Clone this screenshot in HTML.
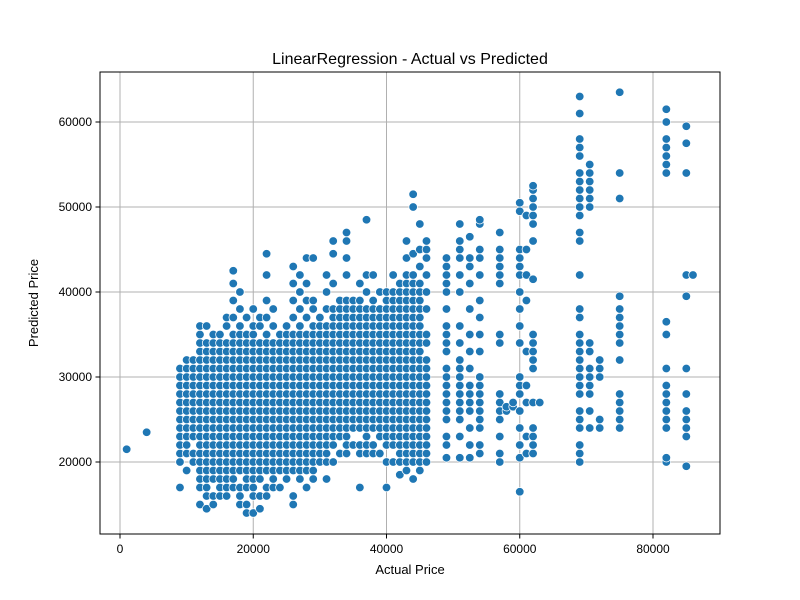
<!DOCTYPE html>
<html><head><meta charset="utf-8"><style>
body{margin:0;background:#fff}
svg{display:block;font-family:"Liberation Sans","DejaVu Sans",sans-serif}
</style></head><body>
<svg id="chart" width="800" height="600" viewBox="0 0 800 600" xmlns="http://www.w3.org/2000/svg">
<rect width="800" height="600" fill="#fff"/>
<g id="grid"></g>
<g id="points"></g>
<rect x="100" y="72" width="620" height="462" fill="none" stroke="#000" stroke-width="1"/>
<g id="ticks"></g>
<text x="410" y="64" text-anchor="middle" font-size="16">LinearRegression - Actual vs Predicted</text>
<text x="410" y="574" text-anchor="middle" font-size="13">Actual Price</text>
<text transform="translate(38,303) rotate(-90)" text-anchor="middle" font-size="13">Predicted Price</text>
</svg>
<script>
const xTicks=[0,20000,40000,60000,80000];
const yTicks=[20000,30000,40000,50000,60000];
// actual price (thousands) per column
const colX=[1,4,9,10,11,12,13,14,15,16,17,18,19,20,21,22,23,24,25,26,27,28,29,30,31,32,33,34,35,36,37,38,39,40,41,42,43,44,45,46,49,51,52.5,54,57,58,59,60,61,62,63,69,70.5,72,75,82,85,86];
// predicted prices (thousands) per column
const colY=[
"21.5","23.5",
"17,20,21,22,23,24,25,26,27,28,29,30,31",
"19,21,22,23,24,25,26,27,28,29,30,31,32",
"20,21,23,24,25,26,27,28,29,30,31,32",
"15,17,18,19,20,21,22,23,24,25,26,27,28,29,30,31,32,33,34,35,36",
"14.5,16,17,18,19,20,21,22,23,24,25,26,27,28,29,30,31,32,33,34,36",
"15,16,18,19,20,21,22,23,24,25,26,27,28,29,30,31,32,33,34,35",
"16,17,18,19,20,21,22,23,24,25,26,27,28,29,30,31,32,33,34,35",
"16,17,18,19,20,21,22,23,24,25,26,27,28,29,30,31,32,33,34,36,37",
"17,18,19,20,21,22,23,24,25,26,27,28,29,30,31,32,33,34,35,37,39,41,42.5",
"15,16,17,19,20,21,22,23,24,25,26,27,28,29,30,31,32,33,34,35,36,38,40",
"14,15,17,18,19,20,21,22,23,24,25,26,27,28,29,30,31,32,33,34,35,37",
"14,16,17,18,19,20,21,22,23,24,25,26,27,28,29,30,31,32,33,34,35,36,38",
"14.5,16,18,19,20,21,22,23,24,25,26,27,28,29,30,31,32,33,34,36,37",
"16,17,19,20,21,22,23,24,25,26,27,28,29,30,31,32,33,34,35,37,39,42,44.5",
"17,18,19,20,21,22,23,24,25,26,27,28,29,30,31,32,33,34,36,38",
"17,19,20,21,22,23,24,25,26,27,28,29,30,31,32,33,34,35",
"18,19,20,21,22,23,24,25,26,27,28,29,30,31,32,33,34,35,36",
"15,16,19,20,21,22,23,24,25,26,27,28,29,30,31,32,33,34,35,37,39,41,43",
"18,19,20,21,22,23,24,25,26,27,28,29,30,31,32,33,34,35,36,38,40,42",
"17,19,20,21,22,23,24,25,26,27,28,29,30,31,32,33,34,35,37,39,41,44",
"18,19,20,21,22,23,24,25,26,27,28,29,30,31,32,33,34,35,36,38,39,44",
"20,21,22,23,24,25,26,27,28,29,30,31,32,33,34,35,36,37",
"18,20,21,22,23,24,25,26,27,28,29,30,31,32,33,34,35,36,38,40,42",
"20,22,23,24,25,26,27,28,29,30,31,32,33,34,35,36,37,38,41,44.5,46",
"21,23,24,25,26,27,28,29,30,31,32,33,34,35,36,37,38,39",
"21,22,23,24,25,26,27,28,29,30,31,32,33,34,35,36,37,38,39,42,44,46,47",
"22,24,25,26,27,28,29,30,31,32,33,34,35,36,37,38,39",
"17,21,22,24,25,26,27,28,29,30,31,32,33,34,35,36,37,38,39,41",
"21,22,23,24,25,26,27,28,29,30,31,32,33,34,35,36,37,38,40,42,48.5",
"21,22,24,25,26,27,28,29,30,31,32,33,34,35,36,37,38,39,42",
"21,23,24,25,26,27,28,29,30,31,32,33,34,35,36,37,38,40",
"17,20,22,23,24,25,26,27,28,29,30,31,32,33,34,35,36,37,38,39,40",
"20,22,23,24,25,26,27,28,29,30,31,32,33,34,35,36,37,38,39,40,42",
"18.5,20,21,22,23,24,25,26,27,28,29,30,31,32,33,34,35,36,37,38,39,40,41",
"19,20,21,22,23,24,25,26,27,28,29,30,31,32,33,34,35,36,37,38,39,40,41,42,44,46",
"18,20,21,22,23,24,25,26,27,28,29,30,31,32,33,34,35,36,37,38,39,40,41,42,44.5,50,51.5",
"19,20,21,22,23,24,25,26,27,28,29,30,31,32,33,34,35,36,37,38,39,40,41,43,45,48",
"20,21,22,23,24,25,26,27,28,29,30,31,32,34,35,38,40,42,44,45,46",
"20.5,22,23,25,26,27,28,29,30,31,33,34,35,36,38,40,41,42,43,44",
"20.5,23,25,26,27,28,29,30,31,32,34,36,40,42,44,45,46,48",
"20.5,22,24,26,27,28,29,31,33,35,38,41,43,44,46.5",
"21,22,24,25,26,27,28,29,30,33,35,37,39,42,44,45,48,48.5",
"20,21,23,25,26,27,28,34,35,41,42,43,44,45,47",
"26,26.5","26.5,27",
"16.5,20.5,22,24,26,28,29,30,34,36,38,40,42,43,44,45,49.5,50.5",
"21,23,27,29,33,39,42,45,49",
"21,22,23,24,27,31,32,33,34,35,41.5,46,48,49,50,51,52,52.5",
"27",
"20,21,22,24,25,26,28,29,30,31,32,33,34,35,37,38,42,46,47,49,50,51,52,53,54,56,57,58,61,63",
"24,26,28,29,30,31,33,34,50,51,52,53,54,55",
"24,25,30,31,32",
"24,25,26,27,28,32,34,35,36,37,38,39.5,51,54,63.5",
"20,20.5,24,25,26,27,28,29,31,35,36.5,54,55,56,57,58,60,61.5",
"19.5,23,24,25,26,28,31,39.5,42,54,57.5,59.5",
"42"];
const NS="http://www.w3.org/2000/svg";
const sx=v=>120+v*(533/80000);
const sy=v=>462-(v-20000)*0.0085;
const grid=document.getElementById('grid'),ticks=document.getElementById('ticks'),pts=document.getElementById('points');
function mk(tag,attrs,parent){const e=document.createElementNS(NS,tag);for(const k in attrs)e.setAttribute(k,attrs[k]);parent.appendChild(e);return e;}
xTicks.forEach(t=>{const x=sx(t);
 const g=mk('line',{x1:x,x2:x,y1:72,y2:534,stroke:'#b0b0b0','stroke-width':1},grid);
 
 
 const tk=mk('line',{x1:x,x2:x,y1:534,y2:538.5,stroke:'#000'},ticks);
 
 
 const tx=mk('text',{x:x,y:553,'text-anchor':'middle','font-size':12},ticks);tx.textContent=t;
 
 });
yTicks.forEach(t=>{const y=sy(t);
 const g=mk('line',{x1:100,x2:720,y1:y,y2:y,stroke:'#b0b0b0','stroke-width':1},grid);
 
 
 const tk=mk('line',{x1:95.5,x2:100,y1:y,y2:y,stroke:'#000'},ticks);
 
 
 const tx=mk('text',{x:92,y:y+4,'text-anchor':'end','font-size':12},ticks);tx.textContent=t;
 
 });
colX.forEach((xv,i)=>{colY[i].split(',').filter(s=>s).forEach(s=>{
 const c=mk('circle',{cx:sx(xv*1000),cy:sy(parseFloat(s)*1000),r:4.3,fill:'#1f77b4',stroke:'#fff','stroke-width':0.75},pts);
 
 });});
</script>
</body></html>
